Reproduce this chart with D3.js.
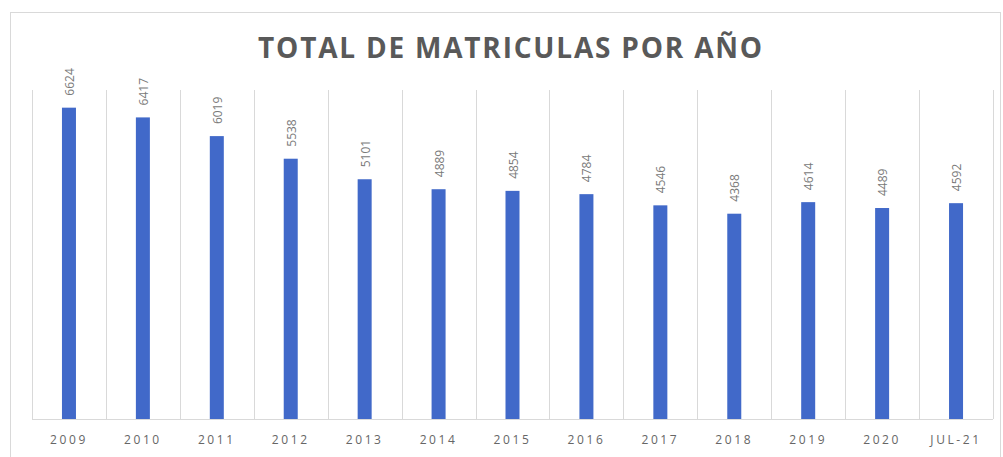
<!DOCTYPE html>
<html>
<head>
<meta charset="utf-8">
<script src="https://cdn.jsdelivr.net/npm/d3@7"></script>
<style>
  body { margin: 0; background: #fff; }
  svg { display: block; font-family: "Open Sans", sans-serif; }
</style>
</head>
<body>
<div id="chart"></div>
<script>
// data
let years = ["2009", "2010", "2011", "2012", "2013", "2014", "2015", "2016", "2017", "2018", "2019", "2020", "JUL-21"];
let matriculas = [6624, 6417, 6019, 5538, 5101, 4889, 4854, 4784, 4546, 4368, 4614, 4489, 4592];

let W = 1003, H = 457;
let margin = {top: 90, right: 10, bottom: 38, left: 32},
    width = W - margin.left - margin.right,
    height = H - margin.top - margin.bottom;

let svg = d3.select("#chart")
    .append("svg")
    .attr("width", W)
    .attr("height", H);

// outer chart frame (runs off the bottom edge)
svg.append("rect")
    .attr("x", 10.5)
    .attr("y", 12.5)
    .attr("width", 990)
    .attr("height", 470)
    .attr("fill", "none")
    .attr("stroke", "#d9d9d9");

svg.append("text")
    .attr("x", 511)
    .attr("y", 58)
    .attr("text-anchor", "middle")
    .attr("font-size", 28)
    .attr("font-weight", "bold")
    .attr("letter-spacing", 1.8)
    .attr("fill", "#595959")
    .text("TOTAL DE MATRICULAS POR AÑO");

let g = svg.append("g")
    .attr("transform", "translate(" + margin.left + "," + margin.top + ")");

let x = d3.scaleBand()
    .domain(years)
    .range([0, width]);

let y = d3.scaleLinear()
    .domain([0, 7000])
    .range([height, 0]);

// vertical separators between categories
g.append("g")
    .selectAll("line")
    .data(d3.range(years.length + 1))
    .enter()
    .append("line")
    .attr("x1", function (i) { return Math.round(i * x.step()) + 0.5 })
    .attr("x2", function (i) { return Math.round(i * x.step()) + 0.5 })
    .attr("y1", 0)
    .attr("y2", height)
    .attr("stroke", "#d9d9d9");

let barW = 14;

g.append("g")
    .selectAll("rect")
    .data(matriculas)
    .enter()
    .append("rect")
    .attr("x", function (d, i) { return x(years[i]) + x.bandwidth() / 2 - barW / 2 })
    .attr("y", function (d) { return y(d) })
    .attr("width", barW)
    .attr("height", function (d) { return height - y(d) })
    .attr("fill", "#4169c9");

// value labels, rotated
g.append("g")
    .selectAll("text")
    .data(matriculas)
    .enter()
    .append("text")
    .attr("transform", function (d, i) {
        return "translate(" + (x(years[i]) + x.bandwidth() / 2 + 5) + "," + (y(d) - 12) + ") rotate(-90)";
    })
    .attr("font-size", 12)
    .attr("fill", "#7a7a7a")
    .text(function (d) { return d });

// baseline axis
let xAxis = g.append("g")
    .attr("transform", "translate(0," + height + ")")
    .call(d3.axisBottom(x).tickSize(0).tickPadding(16));

xAxis.select(".domain").attr("stroke", "#d9d9d9").attr("d", "M0,0.5H" + width);
xAxis.selectAll("text")
    .attr("font-size", 12)
    .attr("letter-spacing", 2.6)
    .attr("font-family", "Open Sans, sans-serif")
    .attr("fill", "#666666");
</script>
</body>
</html>
